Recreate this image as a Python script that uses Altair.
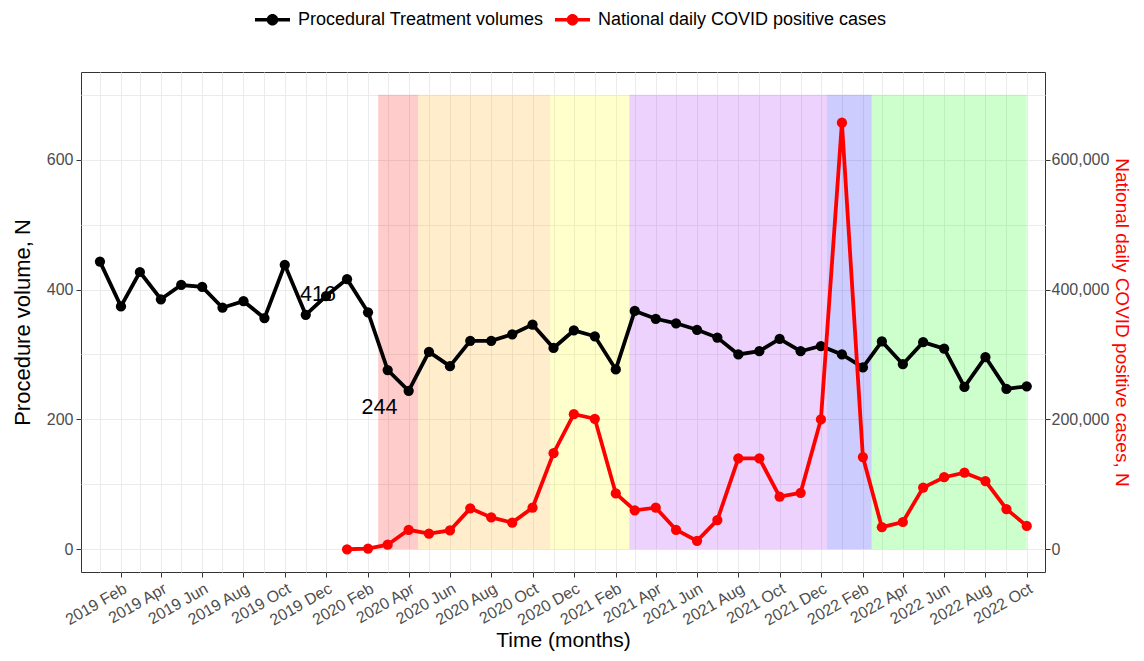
import altair as alt
import pandas as pd

# ---------------- data ----------------
SERIES = ["Procedural Treatment volumes", "National daily COVID positive cases"]

proc_months = pd.date_range("2019-01-01", "2022-10-01", freq="MS").strftime("%Y-%m-%d").tolist()
proc_volume = [443, 374, 427, 385, 407, 404, 372, 382, 356, 438, 361, 390,
               416, 365, 276, 244, 304, 282, 321, 321, 331, 346, 310, 337,
               328, 277, 367, 355, 348, 338, 326, 300, 305, 324, 305, 313,
               300, 280, 320, 285, 319, 309, 250, 296, 247, 251]

covid_months = pd.date_range("2020-01-01", "2022-10-01", freq="MS").strftime("%Y-%m-%d").tolist()
covid_cases = [0, 1000, 7000, 30000, 24000, 29000, 63000, 49000, 41000, 64000, 148000, 208000,
               201000, 86000, 60000, 64000, 30000, 13000, 45000, 140000, 140000, 81000, 87000, 200000,
               657000, 142000, 34000, 42000, 95000, 111000, 118000, 105000, 62000, 36000]

band_start = ["2020-02-16", "2020-04-15", "2020-10-27", "2021-02-21", "2021-12-10", "2022-02-14"]
band_end = ["2020-04-15", "2020-10-27", "2021-02-21", "2021-12-10", "2022-02-14", "2022-10-01"]
band_color = ["#FF0000", "#FFA500", "#FFFF00", "#A020F0", "#0000FF", "#00FF00"]

ann_dates = ["2019-11-19", "2020-02-18"]
ann_values = [392, 217]
ann_text = ["416", "244"]

proc_df = pd.DataFrame({"date": proc_months, "value": proc_volume, "series": SERIES[0]})
covid_df = pd.DataFrame({"date": covid_months, "cases": covid_cases, "series": SERIES[1]})
band_df = pd.DataFrame({"start": band_start, "end": band_end, "fill": band_color})
ann_df = pd.DataFrame({"date": ann_dates, "value": ann_values, "label": ann_text})

# ---------------- scales / axes ----------------
FONT = "Liberation Sans"
GREY_TXT = "#4D4D4D"
GRID = "#EBEBEB"

tick_months = [alt.DateTime(year=int(d[:4]), month=int(d[5:7]), date=1, utc=True) for d in proc_months]
x_scale = alt.Scale(type="utc",
                    domain=[alt.DateTime(year=2018, month=12, date=4, utc=True),
                            alt.DateTime(year=2022, month=10, date=28, utc=True)])
major_test = "utcmonth(datum.value) % 2 == 1"
x_axis = alt.Axis(
    values=tick_months,
    labelExpr=f"{major_test} ? utcFormat(datum.value, '%Y %b') : ''",
    labelAngle=-30, labelAlign="right", labelBaseline="top",
    labelFontSize=16, labelColor=GREY_TXT, labelOverlap=False, labelPadding=3,
    tickSize=5, tickColor="#333333",
    tickOpacity={"condition": {"test": major_test, "value": 1}, "value": 0},
    grid=True, gridColor=GRID, domain=False,
    title="Time (months)", titleFontSize=21, titleFontWeight="normal", titleColor="black",
    titlePadding=1,
)
X = lambda f: alt.X(f, type="temporal", scale=x_scale, axis=x_axis)

y_scale = alt.Scale(domain=[-35, 735], nice=False, zero=False)
y_axis = alt.Axis(
    values=[0, 100, 200, 300, 400, 500, 600, 700],
    labelExpr="datum.value % 200 == 0 ? datum.label : ''",
    tickOpacity={"condition": {"test": "datum.value % 200 == 0", "value": 1}, "value": 0},
    labelFontSize=16, labelColor=GREY_TXT, labelPadding=3,
    tickSize=5, tickColor="#333333",
    grid=True, gridColor=GRID, domain=False,
    title="Procedure volume, N", titleFontSize=22, titleFontWeight="normal", titleColor="black",
    titlePadding=12,
)
y2_scale = alt.Scale(domain=[-35000, 735000], nice=False, zero=False)
y2_axis = alt.Axis(
    orient="right", values=[0, 200000, 400000, 600000],
    labelExpr="format(datum.value, ',')",
    labelFontSize=16, labelColor=GREY_TXT, labelPadding=1,
    tickSize=5, tickColor="#333333", grid=False, domain=False,
    title="National daily COVID positive cases, N", titleFontSize=19, titleFontWeight="normal",
    titleColor="#FF0000", titleAngle=90, titlePadding=3,
)

LEG_PATH = ("M-1,-0.1H1V0.1H-1Z "
            "M0.33,0A0.33,0.33,0,1,1,-0.33,0A0.33,0.33,0,1,1,0.33,0Z")
legend = alt.Legend(
    title=None, orient="none", direction="horizontal", legendX=174, legendY=-70,
    symbolType=LEG_PATH, symbolSize=1225, symbolStrokeWidth=0,
    labelFontSize=18, labelColor="black", labelLimit=600, labelOffset=8,
    columnPadding=11, padding=0,
)
color = alt.Color("series:N", scale=alt.Scale(domain=SERIES, range=["black", "red"]), legend=legend)

# ---------------- layers ----------------
bands = alt.Chart(band_df).mark_rect(opacity=0.2).encode(
    x=X("start"), x2="end",
    y=alt.Y(datum=0, type="quantitative", scale=y_scale, axis=y_axis),
    y2=alt.datum(700),
    fill=alt.Fill("fill:N", scale=None),
)
proc_line = alt.Chart(proc_df).mark_line(strokeWidth=3.8, color="black").encode(
    x=X("date"), y=alt.Y("value:Q", scale=y_scale, axis=y_axis),
)
proc_pts = alt.Chart(proc_df).mark_point(filled=True, size=105, opacity=1).encode(
    x=X("date"), y=alt.Y("value:Q", scale=y_scale, axis=y_axis), color=color,
)
ann = alt.Chart(ann_df).mark_text(fontSize=21.5, color="black", font=FONT).encode(
    x=X("date"), y=alt.Y("value:Q", scale=y_scale, axis=y_axis), text="label:N",
)
left = alt.layer(bands, proc_line, proc_pts, ann)

case_line = alt.Chart(covid_df).mark_line(strokeWidth=3.8, color="red").encode(
    x=X("date"), y=alt.Y("cases:Q", scale=y2_scale, axis=y2_axis),
)
case_pts = alt.Chart(covid_df).mark_point(filled=True, size=105, opacity=1).encode(
    x=X("date"), y=alt.Y("cases:Q", scale=y2_scale, axis=y2_axis), color=color,
)
right = alt.layer(case_line, case_pts)

chart = alt.layer(left, right).resolve_scale(y="independent").properties(
    width=964, height=500,
    autosize=alt.AutoSizeParams(type="none"),
    padding={"left": 73, "top": 64, "right": 91, "bottom": 81},
).configure(font=FONT).configure_view(stroke="#333333", strokeWidth=1)

chart.save("out.html", embed_options={"renderer": "svg", "actions": False})
